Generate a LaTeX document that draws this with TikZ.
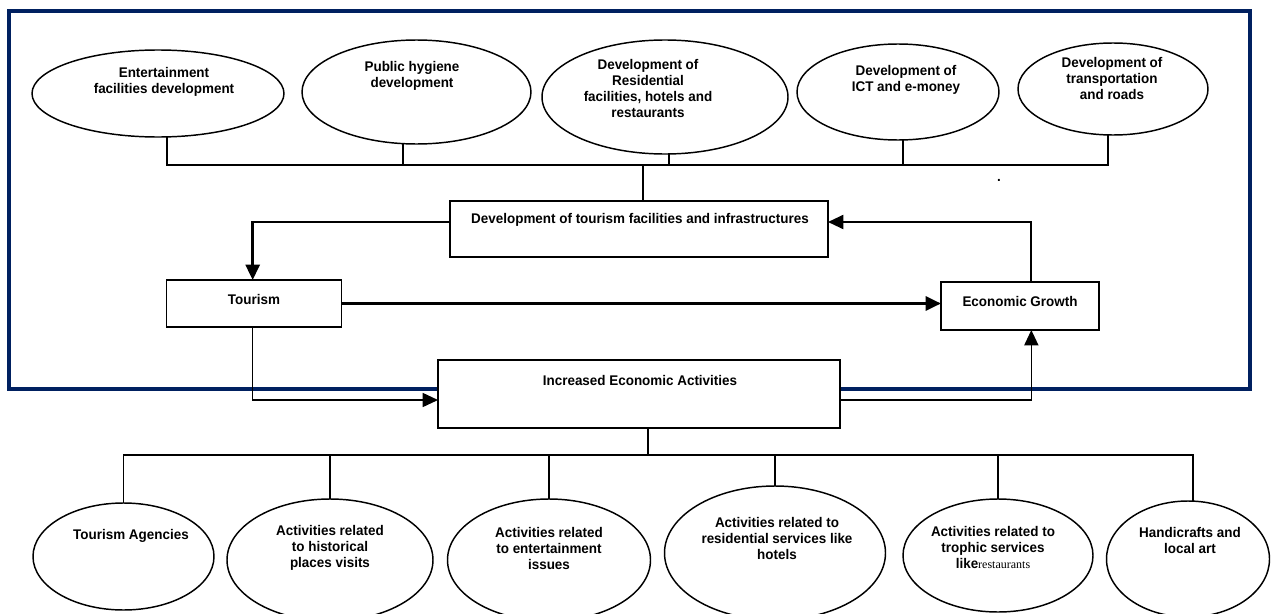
\documentclass[tikz,border=0pt]{standalone}
\usepackage{fontspec}
\setmainfont{Liberation Sans}[FakeStretch=0.96]
\newfontfamily\timesrm{Liberation Serif}
\usetikzlibrary{shapes.geometric,arrows.meta}
\definecolor{framenavy}{RGB}{0,32,96}
\begin{document}
\begin{tikzpicture}[x=0.75pt,y=-0.75pt,
  oval/.style 2 args={draw,ellipse,fill=white,line width=1.1pt,inner sep=0pt,outer sep=0pt,minimum width=#1*0.75pt,minimum height=#2*0.75pt},
  box/.style 2 args={draw,rectangle,fill=white,line width=1.4pt,inner sep=0pt,outer sep=0pt,minimum width=#1*0.75pt,minimum height=#2*0.75pt},
  txt/.style={align=center,font=\bfseries\fontsize{10.5}{12}\selectfont,inner sep=0pt},
  link/.style={line width=1.1pt},
  arr/.style={line width=#1,-{Triangle[length=11.5pt,width=10.5pt]}},arr/.default=1.3pt]
\useasboundingbox (0,0) rectangle (1279,614);
\draw[framenavy,line width=2.7pt] (9,11) rectangle (1250,389);
\node[oval={252}{87}] (e1) at (158,93.5) {};
\node[txt] (e1t) at (164,82) {Entertainment\\facilities development};
\node[oval={229}{104}] (e2) at (416.5,92) {};
\node[txt] (e2t) at (412,76) {Public hygiene\\development};
\node[oval={246}{114}] (e3) at (665,97) {};
\node[txt] (e3t) at (648,88) {Development of\\Residential\\facilities, hotels and\\restaurants};
\node[oval={202}{96}] (e4) at (898,92) {};
\node[txt] (e4t) at (906,80) {Development of\\ICT and e-money};
\node[oval={190}{92}] (e5) at (1113,89) {};
\node[txt] (e5t) at (1112,78) {Development of\\transportation\\and roads};
\node[txt] (dot) at (999,180) {.};
\node[box={378}{56}] (dev) at (639,229) {};
\node[txt] (devt) at (640,220) {Development of tourism facilities and infrastructures};
\node[box={175}{47}] (tour) at (254,303.5) {};
\node[txt] (tourt) at (254,299) {Tourism};
\node[box={158}{48}] (econ) at (1020,306) {};
\node[txt] (econt) at (1020,301) {Economic Growth};
\node[box={402}{68}] (inc) at (639,394) {};
\node[txt] (inct) at (640,380) {Increased Economic Activities};
\node[oval={181}{107}] (b1) at (123.5,556.5) {};
\node[txt] (b1t) at (131,536) {Tourism Agencies};
\node[oval={206}{122}] (b2) at (330,560) {};
\node[txt] (b2t) at (330,548) {Activities related\\to historical\\places visits};
\node[oval={203}{122}] (b3) at (549,560) {};
\node[txt] (b3t) at (549,548) {Activities related\\to entertainment\\issues};
\node[oval={221}{134}] (b4) at (775,553) {};
\node[txt] (b4t) at (777,538) {Activities related to\\residential services like\\hotels};
\node[oval={190}{113}] (b5) at (998,555.5) {};
\node[txt] (b5t) at (993,547) {Activities related to\\trophic services\\like{\timesrm\mdseries\fontsize{9}{12}\selectfont restaurants}};
\node[oval={163}{116}] (b6) at (1188,559) {};
\node[txt] (b6t) at (1190,540) {Handicrafts and\\local art};
\coordinate (topbus) at (643,165);
\draw[link] ([xshift=6.75pt]e1.south) -- ([xshift=6.75pt]e1.south |- topbus) -- ([xshift=-3.75pt]e5.south |- topbus) -- ([xshift=-3.75pt]e5.south);
\draw[link] ([xshift=-10pt]e2.south) -- ([xshift=-10pt]e2.south |- topbus);
\draw[link] ([xshift=3pt]e3.south) -- ([xshift=3pt]e3.south |- topbus);
\draw[link] ([xshift=3.75pt]e4.south) -- ([xshift=3.75pt]e4.south |- topbus);
\draw[link] (topbus) -- (topbus |- dev.north);
\draw[arr=2pt] ([yshift=5.25pt]dev.west) -| ([xshift=-1pt]tour.north);
\draw[arr=2.2pt] (tour.east) -- (tour.east -| econ.west);
\draw[arr=1.5pt] ([xshift=8.5pt]econ.north) |- ([yshift=5.25pt]dev.east);
\draw[arr=1.2pt] ([xshift=-1pt]tour.south) |- ([yshift=-4.5pt]inc.west);
\draw[arr=1.2pt] ([yshift=-4.5pt]inc.east) -| ([xshift=8.5pt]econ.south);
\coordinate (botbus) at (648,455);
\draw[link] ([xshift=6.75pt]inc.south) -- (botbus);
\draw[link] (b1.north) -- (b1.north |- botbus) -- ([xshift=3.75pt]b6.north |- botbus) -- ([xshift=3.75pt]b6.north);
\foreach \n in {b2,b3,b4,b5} \draw[link] (\n.north) -- (\n.north |- botbus);
\end{tikzpicture}
\end{document}
